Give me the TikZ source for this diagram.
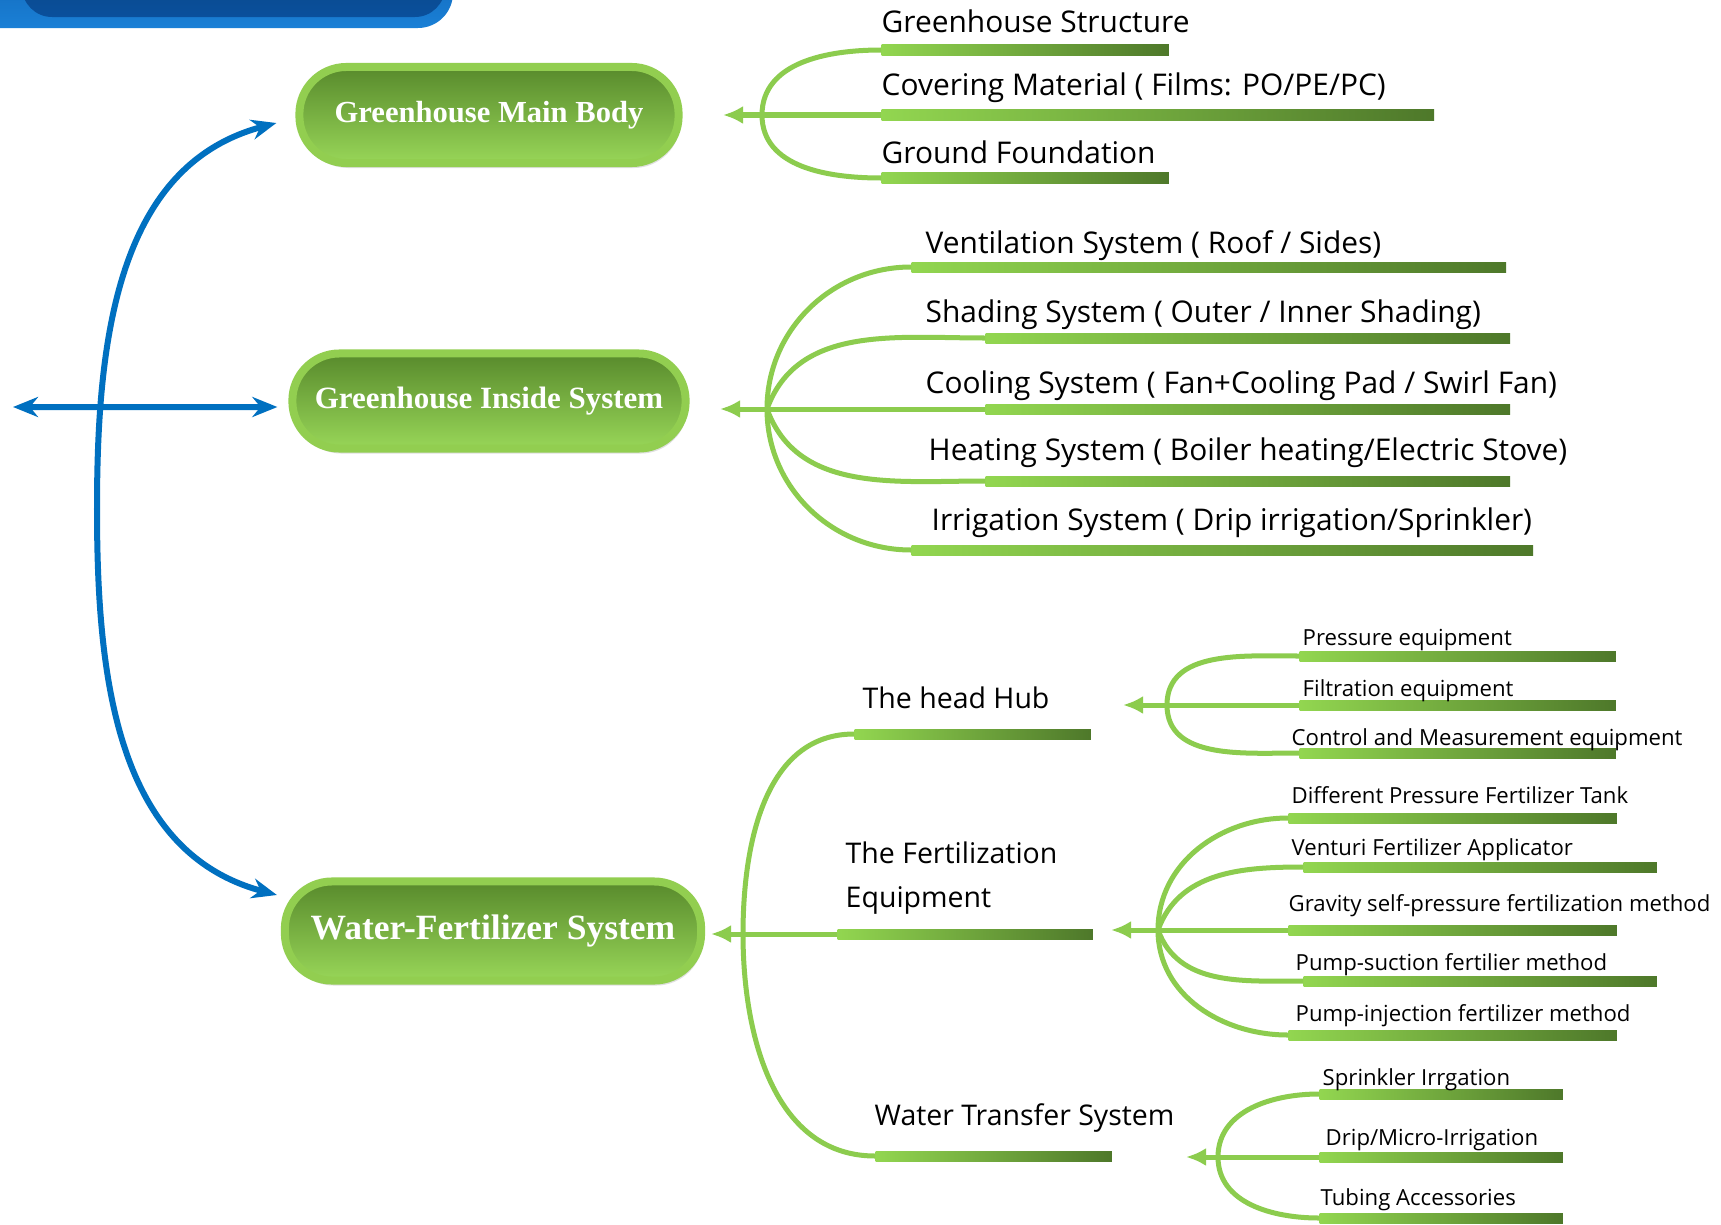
\documentclass[tikz,border=0pt]{standalone}
\usepackage{fontspec}
\setmainfont{Open Sans}
\newfontfamily\pillfont{Liberation Serif}
\usetikzlibrary{arrows.meta,shadows}
\definecolor{linkblue}{RGB}{0,112,192}
\definecolor{pillrim}{RGB}{146,206,80}
\definecolor{pilltop}{RGB}{88,138,44}
\definecolor{pillbot}{RGB}{152,214,88}
\definecolor{barlight}{RGB}{146,214,80}
\definecolor{bardark}{RGB}{78,120,42}
\definecolor{twiggreen}{RGB}{140,204,78}
\definecolor{capblue}{RGB}{26,128,214}
\definecolor{capdeep}{RGB}{10,80,156}

\begin{document}
\begin{tikzpicture}[x=0.01cm,y=0.01cm,
  pill/.style={rectangle,rounded corners=0.47cm,draw=pillrim,line width=0.08cm,top color=pilltop,bottom color=pillbot,
    text=white,inner sep=0,drop shadow={opacity=0.25,shadow xshift=0.02cm,shadow yshift=-0.05cm}},
  greenbar/.style={rectangle,anchor=west,inner sep=0,minimum height=0.1cm,left color=barlight,right color=bardark},
  itemtext/.style={anchor=base west,inner sep=0,font=\fontsize{8.5}{10}\selectfont},
  midtext/.style={itemtext,font=\fontsize{8.1}{12.5}\selectfont},
  subtext/.style={itemtext,font=\fontsize{6.3}{8}\selectfont},
  twig/.style={draw=twiggreen,line width=0.05cm},
  gather/.style={twig,-{Latex[length=0.2cm,width=0.18cm]}},
  link/.style={draw=linkblue,line width=0.06cm,{Stealth[length=0.25cm,width=0.2cm]}-{Stealth[length=0.25cm,width=0.2cm]}}]
  \fill[white] (0,0) rectangle (1721,-1224);
  \useasboundingbox (0,0) rectangle (1721,-1224);
  \shade[top color=capdeep,bottom color=capblue,rounded corners=0.35cm] (-100,100) rectangle (453,-28);
  \shade[top color=capdeep!70!black,bottom color=capdeep,rounded corners=0.3cm] (22,100) rectangle (445,-17);

  \node[pill,minimum width=3.79cm,minimum height=0.96cm,font=\pillfont\bfseries\fontsize{8.7}{10}\selectfont] (body)
    at (489,-115) {Greenhouse Main Body};
  \node[pill,minimum width=3.93cm,minimum height=0.95cm,font=\pillfont\bfseries\fontsize{8.8}{10}\selectfont] (inside)
    at (489,-401) {Greenhouse Inside System};
  \node[pill,minimum width=4.16cm,minimum height=0.99cm,font=\pillfont\bfseries\fontsize{10.1}{12}\selectfont] (water)
    at (493,-931) {Water-Fertilizer System};

  \coordinate (bend) at (97,-509);
  \coordinate (far) at (13,-407);
  \draw[link] ([xshift=-0.19cm,yshift=-0.08cm]body.west) to[out=195,in=90] (bend) to[out=-90,in=165]
    ([xshift=-0.04cm,yshift=0.36cm]water.west);
  \draw[link] (far) -- ([xshift=-0.11cm,yshift=-0.06cm]inside.west);

  \coordinate (j-body) at (762,-115);
  \coordinate (tip-body) at (723,-115);
  \node[greenbar,minimum width=2.87cm] (b-struct) at (881,-50) {};
  \node[greenbar,minimum width=5.52cm] (b-cover) at (881,-115) {};
  \node[greenbar,minimum width=2.87cm] (b-ground) at (881,-178) {};
  \node[itemtext] (t-struct) at (881,-32) {Greenhouse Structure};
  \node[itemtext] (t-cover) at (881,-95) {Covering Material ( Films: PO/PE/PC)};
  \node[itemtext] (t-ground) at (881,-163) {Ground Foundation};
  \draw[twig] (b-struct.west) to[out=180,in=90] (j-body) to[out=-90,in=180] (b-ground.west);
  \draw[gather] (b-cover.west) -- (tip-body);

  \coordinate (j-inside) at (767,-409);
  \coordinate (tip-inside) at (720,-409);
  \node[greenbar,minimum width=5.94cm] (b-vent) at (911,-267) {};
  \node[greenbar,minimum width=5.24cm] (b-shade) at (985,-338) {};
  \node[greenbar,minimum width=5.24cm] (b-cool) at (985,-409) {};
  \node[greenbar,minimum width=5.24cm] (b-heat) at (985,-481) {};
  \node[greenbar,minimum width=6.21cm] (b-irri) at (911,-550) {};
  \node[itemtext] (t-vent) at (925,-253) {Ventilation System ( Roof / Sides)};
  \node[itemtext] (t-shade) at (925,-322) {Shading System ( Outer / Inner Shading)};
  \node[itemtext] (t-cool) at (925,-393) {Cooling System ( Fan+Cooling Pad / Swirl Fan)};
  \node[itemtext] (t-heat) at (928,-460) {Heating System ( Boiler heating/Electric Stove)};
  \node[itemtext] (t-irri) at (931,-530) {Irrigation System ( Drip irrigation/Sprinkler)};
  \draw[twig] (b-vent.west) to[out=180,in=90] (j-inside) to[out=-90,in=180] (b-irri.west);
  \draw[twig] (b-shade.west) to[out=180,in=70] (j-inside) to[out=-70,in=180] (b-heat.west);
  \draw[gather] (b-cool.west) -- (tip-inside);

  \coordinate (j-water) at (743,-934);
  \coordinate (tip-water) at (711,-934);
  \node[greenbar,minimum width=2.36cm] (b-hub) at (854,-734) {};
  \node[greenbar,minimum width=2.55cm] (b-fert) at (837,-934) {};
  \node[greenbar,minimum width=2.36cm] (b-wts) at (875,-1156) {};
  \node[midtext] (t-hub) at (862,-708) {The head Hub};
  \node[midtext,anchor=west,align=left] (t-fert) at (845,-878) {The Fertilization\\Equipment};
  \node[midtext] (t-wts) at (874,-1125) {Water Transfer System};
  \draw[twig] (b-hub.west) to[out=180,in=90] (j-water) to[out=-90,in=180] (b-wts.west);
  \draw[gather] (b-fert.west) -- (tip-water);

  \coordinate (j-hub) at (1167,-705);
  \coordinate (tip-hub) at (1123,-705);
  \node[greenbar,minimum width=3.16cm] (b-press) at (1299,-656) {};
  \node[greenbar,minimum width=3.16cm] (b-filt) at (1299,-705) {};
  \node[greenbar,minimum width=3.16cm] (b-ctrl) at (1299,-753) {};
  \node[subtext] (t-press) at (1302,-645) {Pressure equipment};
  \node[subtext] (t-filt) at (1302,-696) {Filtration equipment};
  \node[subtext] (t-ctrl) at (1291,-745) {Control and Measurement equipment};
  \draw[twig] (b-press.west) to[out=180,in=90] (j-hub) to[out=-90,in=180] (b-ctrl.west);
  \draw[gather] (b-filt.west) -- (tip-hub);

  \coordinate (j-fert) at (1158,-930);
  \coordinate (tip-fert) at (1111,-930);
  \node[greenbar,minimum width=3.28cm] (b-tank) at (1288,-818) {};
  \node[greenbar,minimum width=3.53cm] (b-venturi) at (1303,-867) {};
  \node[greenbar,minimum width=3.28cm] (b-grav) at (1288,-930) {};
  \node[greenbar,minimum width=3.53cm] (b-suct) at (1303,-981) {};
  \node[greenbar,minimum width=3.28cm] (b-inj) at (1288,-1035) {};
  \node[subtext] (t-tank) at (1291,-803) {Different Pressure Fertilizer Tank};
  \node[subtext] (t-venturi) at (1291,-855) {Venturi Fertilizer Applicator};
  \node[subtext] (t-grav) at (1288,-911) {Gravity self-pressure fertilization method};
  \node[subtext] (t-suct) at (1295,-970) {Pump-suction fertilier method};
  \node[subtext] (t-inj) at (1295,-1021) {Pump-injection fertilizer method};
  \draw[twig] (b-tank.west) to[out=180,in=90] (j-fert) to[out=-90,in=180] (b-inj.west);
  \draw[twig] (b-venturi.west) to[out=180,in=70] (j-fert) to[out=-70,in=180] (b-suct.west);
  \draw[gather] (b-grav.west) -- (tip-fert);

  \coordinate (j-wts) at (1218,-1157);
  \coordinate (tip-wts) at (1186,-1157);
  \node[greenbar,minimum width=2.43cm] (b-spr) at (1319,-1094) {};
  \node[greenbar,minimum width=2.43cm] (b-drip) at (1319,-1157) {};
  \node[greenbar,minimum width=2.43cm] (b-tube) at (1319,-1218) {};
  \node[subtext] (t-spr) at (1322,-1085) {Sprinkler Irrgation};
  \node[subtext] (t-drip) at (1325,-1145) {Drip/Micro-Irrigation};
  \node[subtext] (t-tube) at (1320,-1205) {Tubing Accessories};
  \draw[twig] (b-spr.west) to[out=180,in=90] (j-wts) to[out=-90,in=180] (b-tube.west);
  \draw[gather] (b-drip.west) -- (tip-wts);
\end{tikzpicture}
\end{document}
